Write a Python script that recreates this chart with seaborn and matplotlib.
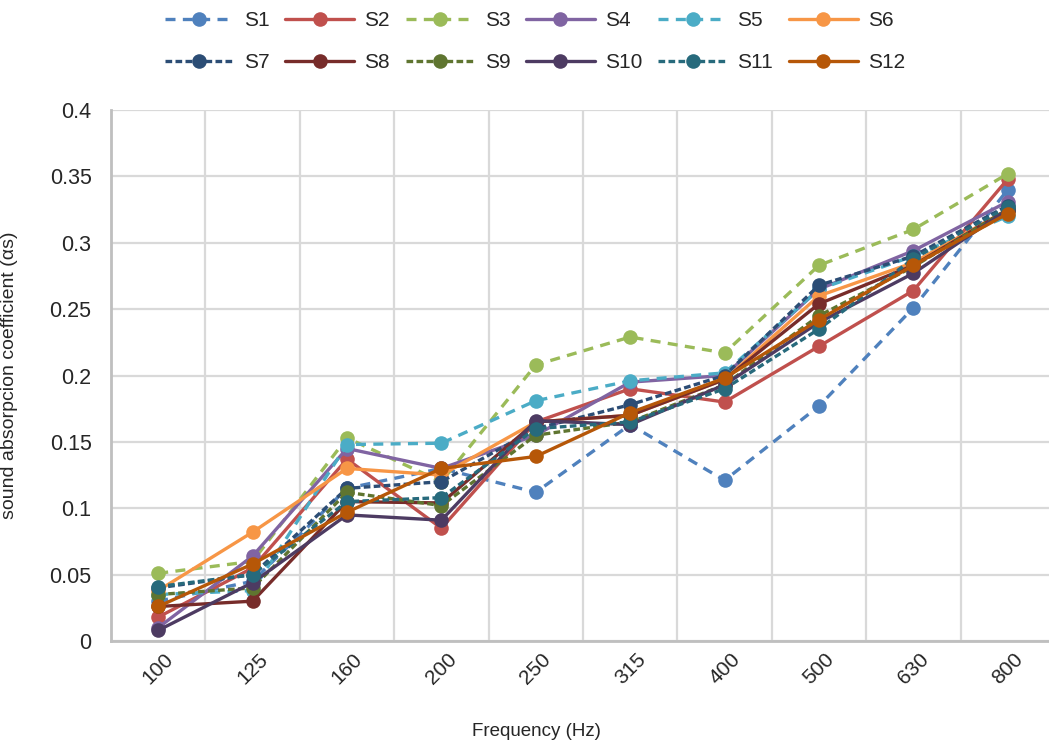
import numpy as np
import pandas as pd
import matplotlib
matplotlib.use("Agg")
import matplotlib.pyplot as plt
import seaborn as sns

freqs = ["100", "125", "160", "200", "250", "315", "400", "500", "630", "800"]
S1 = [0.030, 0.045, 0.115, 0.130, 0.112, 0.163, 0.121, 0.177, 0.251, 0.340]
S2 = [0.018, 0.055, 0.137, 0.085, 0.165, 0.190, 0.180, 0.222, 0.264, 0.348]
S3 = [0.051, 0.060, 0.153, 0.120, 0.208, 0.229, 0.217, 0.283, 0.310, 0.352]
S4 = [0.010, 0.064, 0.145, 0.130, 0.155, 0.195, 0.200, 0.265, 0.294, 0.331]
S5 = [0.035, 0.038, 0.148, 0.149, 0.181, 0.196, 0.202, 0.265, 0.290, 0.320]
S6 = [0.038, 0.082, 0.130, 0.125, 0.165, 0.170, 0.197, 0.260, 0.285, 0.325]
S7 = [0.040, 0.050, 0.115, 0.120, 0.160, 0.178, 0.200, 0.268, 0.290, 0.328]
S8 = [0.026, 0.030, 0.105, 0.104, 0.165, 0.170, 0.197, 0.254, 0.283, 0.325]
S9 = [0.035, 0.040, 0.112, 0.102, 0.155, 0.165, 0.193, 0.245, 0.282, 0.325]
S10 = [0.008, 0.044, 0.095, 0.091, 0.166, 0.163, 0.193, 0.240, 0.277, 0.325]
S11 = [0.041, 0.050, 0.105, 0.108, 0.160, 0.165, 0.190, 0.235, 0.288, 0.327]
S12 = [0.026, 0.058, 0.097, 0.130, 0.139, 0.172, 0.198, 0.242, 0.283, 0.322]

series_names = ["S1", "S2", "S3", "S4", "S5", "S6", "S7", "S8", "S9", "S10", "S11", "S12"]
series_values = [S1, S2, S3, S4, S5, S6, S7, S8, S9, S10, S11, S12]
ytick_vals = [0, 0.05, 0.1, 0.15, 0.2, 0.25, 0.3, 0.35, 0.4]
ytick_labels = ["0", "0.05", "0.1", "0.15", "0.2", "0.25", "0.3", "0.35", "0.4"]

colors = ["#4F81BD", "#C0504D", "#9BBB59", "#8064A2", "#4BACC6", "#F79646",
          "#2C4D75", "#772C2A", "#5F7530", "#4D3B62", "#276A7C", "#B65708"]
long_dash = (3.0, 2.2)
short_dash = (2.0, 1.0)
dash_styles = ["long", "", "long", "", "long", "", "short", "", "short", "", "short", ""]

rows = []
for name, vals in zip(series_names, series_values):
    for f, v in zip(freqs, vals):
        rows.append({"Frequency": f, "value": v, "series": name})
df = pd.DataFrame(rows)

palette = dict(zip(series_names, colors))
dashes = {}
for name, d in zip(series_names, dash_styles):
    dashes[name] = long_dash if d == "long" else (short_dash if d == "short" else "")
markers = {name: "o" for name in series_names}

sns.set_style("white")
plt.rcParams['font.family'] = ['Liberation Sans', 'DejaVu Sans']

fig = plt.figure(figsize=(10.49, 7.45), dpi=100)
ax = fig.add_axes([111 / 1049, (745 - 641) / 745, 944 / 1049, 531 / 745])

sns.lineplot(data=df, x="Frequency", y="value", hue="series", style="series",
             palette=palette, dashes=dashes, markers=markers, sort=False,
             linewidth=2.4, markersize=10.5, markeredgewidth=0, ax=ax, legend="full")

ax.set_xlim(-0.5, 9.5)
ax.set_ylim(0, 0.4)
ax.set_xticks(range(len(freqs)))
ax.set_xticklabels(freqs, rotation=45, fontsize=15)
ax.set_xticks(np.arange(-0.5, len(freqs), 1.0), minor=True)
ax.set_yticks(ytick_vals)
ax.set_yticklabels(ytick_labels, fontsize=15.5)
ax.tick_params(axis="both", which="both", length=0)
ax.tick_params(axis="y", pad=14)
ax.tick_params(axis="x", pad=6)

ax.grid(False)
ax.yaxis.grid(True, color="#D9D9D9", linewidth=1.6)
ax.xaxis.grid(True, which="minor", color="#D9D9D9", linewidth=1.6)
ax.set_axisbelow(True)
for side in ["top", "right"]:
    ax.spines[side].set_visible(False)
for side in ["left", "bottom"]:
    ax.spines[side].set_color("#BFBFBF")
    ax.spines[side].set_linewidth(2)

ax.set_xlabel("Frequency (Hz)", fontsize=13.5)
ax.set_ylabel("sound absorpcion coefficient (αs)", fontsize=14)
ax.xaxis.set_label_coords((536 - 111) / 944, (641 - 723) / 531)
ax.yaxis.set_label_coords((18 - 111) / 944, 0.5)

handles, labels = ax.get_legend_handles_labels()
ax.get_legend().remove()
# reorder so the legend fills row by row (S1..S6 on the first row)
order = []
for c in range(6):
    order += [c, c + 6]
handles = [handles[i] for i in order]
labels = [labels[i] for i in order]
fig.legend(handles, labels, loc="upper center", bbox_to_anchor=(0.51, 1.01),
           ncol=6, frameon=False, fontsize=15, handlelength=3.3,
           handletextpad=0.5, columnspacing=0.75, labelspacing=1.1,
           markerscale=1.0)

fig.savefig("out.png", dpi=100)
